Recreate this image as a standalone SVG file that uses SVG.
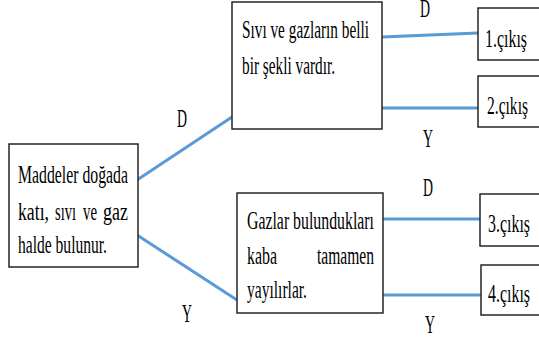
<svg xmlns="http://www.w3.org/2000/svg" width="539" height="347" viewBox="0 0 539 347">
<style>
.box{fill:#ffffff;stroke:#262626;stroke-width:1.5}
text{font-family:'Liberation Serif','Times New Roman',serif;font-size:25px;fill:#000}
.c{stroke:#5b9bd5;stroke-width:3;fill:none}
</style>
<rect width="539" height="347" fill="#ffffff"/>
<g id="connectors">
<line class="c" x1="137" y1="180" x2="232" y2="117"/>
<line class="c" x1="137" y1="235" x2="237" y2="300"/>
<line class="c" x1="382" y1="37" x2="478" y2="33"/>
<line class="c" x1="382" y1="108" x2="478" y2="108"/>
<line class="c" x1="383" y1="219" x2="480" y2="219"/>
<line class="c" x1="383" y1="295" x2="481" y2="295"/>
</g>
<g id="labels">
<text x="177" y="127" textLength="10" lengthAdjust="spacingAndGlyphs">D</text>
<text x="182" y="322" textLength="10" lengthAdjust="spacingAndGlyphs">Y</text>
<text x="420" y="17" textLength="10" lengthAdjust="spacingAndGlyphs">D</text>
<text x="423" y="147" textLength="10" lengthAdjust="spacingAndGlyphs">Y</text>
<text x="423" y="196" textLength="10" lengthAdjust="spacingAndGlyphs">D</text>
<text x="425" y="333" textLength="10" lengthAdjust="spacingAndGlyphs">Y</text>
</g>
<g id="root">
<rect class="box" x="9" y="144" width="129" height="123"/>
<text x="18" y="183" textLength="110" lengthAdjust="spacingAndGlyphs">Maddeler doğada</text>
<text x="18" y="220" textLength="31" lengthAdjust="spacingAndGlyphs">katı,</text>
<text x="55" y="220" textLength="21" lengthAdjust="spacingAndGlyphs">sıvı</text>
<text x="83" y="220" textLength="14" lengthAdjust="spacingAndGlyphs">ve</text>
<text x="103" y="220" textLength="25" lengthAdjust="spacingAndGlyphs">gaz</text>
<text x="18" y="253" textLength="89" lengthAdjust="spacingAndGlyphs">halde bulunur.</text>
</g>
<g id="q1">
<rect class="box" x="232" y="2" width="150" height="127"/>
<text x="242" y="38" textLength="127" lengthAdjust="spacingAndGlyphs">Sıvı ve gazların belli</text>
<text x="242" y="74" textLength="93" lengthAdjust="spacingAndGlyphs">bir şekli vardır.</text>
</g>
<g id="q2">
<rect class="box" x="237" y="193" width="146" height="120"/>
<text x="247" y="229" textLength="127" lengthAdjust="spacingAndGlyphs">Gazlar bulundukları</text>
<text x="247" y="264" textLength="30" lengthAdjust="spacingAndGlyphs">kaba</text>
<text x="317" y="264" textLength="57" lengthAdjust="spacingAndGlyphs">tamamen</text>
<text x="247" y="298" textLength="60" lengthAdjust="spacingAndGlyphs">yayılırlar.</text>
</g>
<g id="out1">
<rect class="box" x="478" y="8" width="70" height="52"/>
<text x="485" y="47" textLength="42" lengthAdjust="spacingAndGlyphs">1.çıkış</text>
</g>
<g id="out2">
<rect class="box" x="478" y="76" width="70" height="51"/>
<text x="487" y="114" textLength="41" lengthAdjust="spacingAndGlyphs">2.çıkış</text>
</g>
<g id="out3">
<rect class="box" x="480" y="194" width="70" height="52"/>
<text x="488" y="232" textLength="42" lengthAdjust="spacingAndGlyphs">3.çıkış</text>
</g>
<g id="out4">
<rect class="box" x="481" y="265" width="70" height="50"/>
<text x="488" y="302" textLength="42" lengthAdjust="spacingAndGlyphs">4.çıkış</text>
</g>
</svg>
